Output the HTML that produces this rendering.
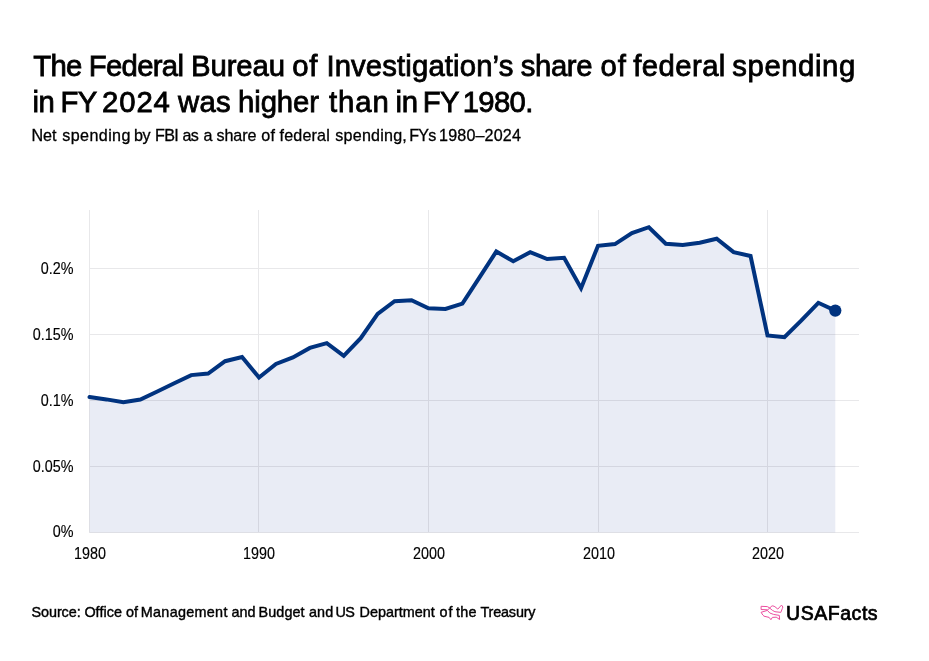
<!DOCTYPE html>
<html><head><meta charset="utf-8">
<style>
html,body{margin:0;padding:0;background:#fff;}
body{width:929px;height:661px;position:relative;overflow:hidden;font-family:"Liberation Sans",sans-serif;color:#000;}
.t{position:absolute;font-size:29.3px;line-height:35.7px;white-space:nowrap;-webkit-text-stroke:0.8px #000;}
.s{position:absolute;font-size:16.1px;line-height:20px;white-space:nowrap;-webkit-text-stroke:0.3px #000;}
.r{position:absolute;font-size:14.4px;line-height:18px;white-space:nowrap;-webkit-text-stroke:0.4px #000;}
.yl{position:absolute;left:0;width:73.5px;text-align:right;font-size:15.6px;line-height:18px;color:#000;transform:scaleX(0.92);transform-origin:100% 50%;-webkit-text-stroke:0.15px #000;}
.xl{position:absolute;top:545px;width:60px;text-align:center;font-size:15.6px;line-height:18px;color:#000;transform:scaleX(0.92);-webkit-text-stroke:0.15px #000;}
.logo{position:absolute;left:786px;top:601px;font-size:19.5px;line-height:24px;-webkit-text-stroke:0.7px #000;letter-spacing:0.55px;}
svg{position:absolute;left:0;top:0;}
</style></head><body>
<span class="t" style="left:33.2px;top:48px;letter-spacing:-0.70px">The</span><span class="t" style="left:88.75px;top:48px;letter-spacing:-0.70px">Federal</span><span class="t" style="left:190.9px;top:48px;letter-spacing:-0.04px">Bureau</span><span class="t" style="left:292.15px;top:48px;letter-spacing:0.70px">of</span><span class="t" style="left:326.4px;top:48px;letter-spacing:0.13px">Investigation’s</span><span class="t" style="left:520.8px;top:48px;letter-spacing:-0.40px">share</span><span class="t" style="left:600.45px;top:48px;letter-spacing:0.90px">of</span><span class="t" style="left:633.25px;top:48px;letter-spacing:0.42px">federal</span><span class="t" style="left:732.35px;top:48px;letter-spacing:0.56px">spending</span>
<span class="t" style="left:32.5px;top:83.7px;letter-spacing:-0.40px">in</span><span class="t" style="left:60.6px;top:83.7px;letter-spacing:-0.70px">FY</span><span class="t" style="left:102.0px;top:83.7px;letter-spacing:0.90px">2024</span><span class="t" style="left:178.03px;top:83.7px;letter-spacing:0.28px">was</span><span class="t" style="left:238.1px;top:83.7px;letter-spacing:-0.12px">higher</span><span class="t" style="left:329.1px;top:83.7px;letter-spacing:0.87px">than</span><span class="t" style="left:395.55px;top:83.7px;letter-spacing:-0.30px">in</span><span class="t" style="left:422.75px;top:83.7px;letter-spacing:-0.70px">FY</span><span class="t" style="left:462.75px;top:83.7px;letter-spacing:-0.68px">1980.</span>
<span class="s" style="left:31.6px;top:125px;letter-spacing:-0.10px">Net</span><span class="s" style="left:62.35px;top:125px;letter-spacing:0.39px">spending</span><span class="s" style="left:134.0px;top:125px;letter-spacing:-0.40px">by</span><span class="s" style="left:155.1px;top:125px;letter-spacing:-0.70px">FBI</span><span class="s" style="left:182.5px;top:125px;letter-spacing:-0.70px">as</span><span class="s" style="left:203.6px;top:125px;letter-spacing:0.00px">a</span><span class="s" style="left:216.45px;top:125px;letter-spacing:-0.07px">share</span><span class="s" style="left:261.35px;top:125px;letter-spacing:0.30px">of</span><span class="s" style="left:279.5px;top:125px;letter-spacing:0.17px">federal</span><span class="s" style="left:335.35px;top:125px;letter-spacing:0.21px">spending,</span><span class="s" style="left:409.15px;top:125px;letter-spacing:-0.70px">FYs</span><span class="s" style="left:439.1px;top:125px;letter-spacing:0.15px">1980–2024</span>
<svg width="929" height="661" viewBox="0 0 929 661">
<path d="M89.50,532.5 L89.50,397 L106.45,399.4 L123.40,402.2 L140.35,399.5 L157.30,391.5 L174.25,383.2 L191.20,375.1 L208.15,373.6 L225.10,361.2 L242.05,357 L259.00,377.5 L275.95,364 L292.90,357.4 L309.85,347.9 L326.80,343.1 L343.75,355.8 L360.70,338.2 L377.65,313.9 L394.60,301.2 L411.55,300.2 L428.50,308.2 L445.45,309 L462.40,303.6 L479.35,277.7 L496.30,251.5 L513.25,261.3 L530.20,252.2 L547.15,259 L564.10,257.8 L581.05,288.2 L598.00,245.8 L614.95,244.1 L631.90,233.1 L648.85,227.2 L665.80,243.7 L682.75,245 L699.70,242.7 L716.65,238.7 L733.60,252.1 L750.55,256 L767.50,335.4 L784.45,337.2 L801.40,320.4 L818.35,302.8 L835.30,310.6 L835.30,532.5 Z" fill="#e9ecf5"/>
<g stroke="#e8e8ea" stroke-width="1" fill="none" style="mix-blend-mode:multiply"><line x1="89.5" y1="210" x2="89.5" y2="532.5"/><line x1="258.5" y1="210" x2="258.5" y2="532.5"/><line x1="428.5" y1="210" x2="428.5" y2="532.5"/><line x1="598.5" y1="210" x2="598.5" y2="532.5"/><line x1="767.5" y1="210" x2="767.5" y2="532.5"/><line x1="89" y1="268.5" x2="859" y2="268.5"/><line x1="89" y1="334.5" x2="859" y2="334.5"/><line x1="89" y1="400.5" x2="859" y2="400.5"/><line x1="89" y1="466.5" x2="859" y2="466.5"/><line x1="89" y1="532.5" x2="859" y2="532.5"/></g>
<polyline points="89.50,397 106.45,399.4 123.40,402.2 140.35,399.5 157.30,391.5 174.25,383.2 191.20,375.1 208.15,373.6 225.10,361.2 242.05,357 259.00,377.5 275.95,364 292.90,357.4 309.85,347.9 326.80,343.1 343.75,355.8 360.70,338.2 377.65,313.9 394.60,301.2 411.55,300.2 428.50,308.2 445.45,309 462.40,303.6 479.35,277.7 496.30,251.5 513.25,261.3 530.20,252.2 547.15,259 564.10,257.8 581.05,288.2 598.00,245.8 614.95,244.1 631.90,233.1 648.85,227.2 665.80,243.7 682.75,245 699.70,242.7 716.65,238.7 733.60,252.1 750.55,256 767.50,335.4 784.45,337.2 801.40,320.4 818.35,302.8 835.30,310.6" fill="none" stroke="#01337f" stroke-width="4" stroke-linejoin="miter" stroke-linecap="round"/>
<circle cx="835.30" cy="310.6" r="6.1" fill="#01337f"/>
<g transform="translate(756,600)" fill="none" stroke="#ec4f9f" stroke-width="1" stroke-linejoin="round">
<path d="M5.1,6.3 L11.3,6.6 L13.8,8 L15.2,6.4 L16.8,5.8 L18.9,6.7 L21.8,9.1 L25.5,5.1 L26.9,7 L26.4,8.4 L24.8,12.4 L18.9,11.7 L16.5,10.4 L13.8,8.2 L11.6,9.8 L5.1,9.5 Z"/>
<path d="M5.1,12.3 L11.4,10.4 L13.8,13 L17.5,14.4 L23.3,15.4 L23.6,19.5 L21.2,17.8 L20.2,17.2 L16.4,17.4 L14.9,19.7 L13.1,17.4 L8,16.2 L6.8,15 Z"/>
</g>
</svg>
<div class="yl" style="top:260.1px">0.2%</div><div class="yl" style="top:326.1px">0.15%</div><div class="yl" style="top:391.9px">0.1%</div><div class="yl" style="top:457.9px">0.05%</div><div class="yl" style="top:522.9px">0%</div>
<div class="xl" style="left:59.5px">1980</div><div class="xl" style="left:228.5px">1990</div><div class="xl" style="left:398.5px">2000</div><div class="xl" style="left:568.5px">2010</div><div class="xl" style="left:737.5px">2020</div>
<span class="r" style="left:31.5px;top:603px;letter-spacing:-0.07px">Source:</span><span class="r" style="left:84.4px;top:603px;letter-spacing:0.04px">Office</span><span class="r" style="left:126.05px;top:603px;letter-spacing:-0.10px">of</span><span class="r" style="left:140.8px;top:603px;letter-spacing:0.29px">Management</span><span class="r" style="left:231.55px;top:603px;letter-spacing:-0.05px">and</span><span class="r" style="left:258.6px;top:603px;letter-spacing:0.08px">Budget</span><span class="r" style="left:309.0px;top:603px;letter-spacing:0.10px">and</span><span class="r" style="left:335.5px;top:603px;letter-spacing:-0.70px">US</span><span class="r" style="left:359.6px;top:603px;letter-spacing:0.00px">Department</span><span class="r" style="left:439.5px;top:603px;letter-spacing:0.90px">of</span><span class="r" style="left:456.1px;top:603px;letter-spacing:0.20px">the</span><span class="r" style="left:480.45px;top:603px;letter-spacing:-0.16px">Treasury</span>
<div class="logo">USAFacts</div>
</body></html>
